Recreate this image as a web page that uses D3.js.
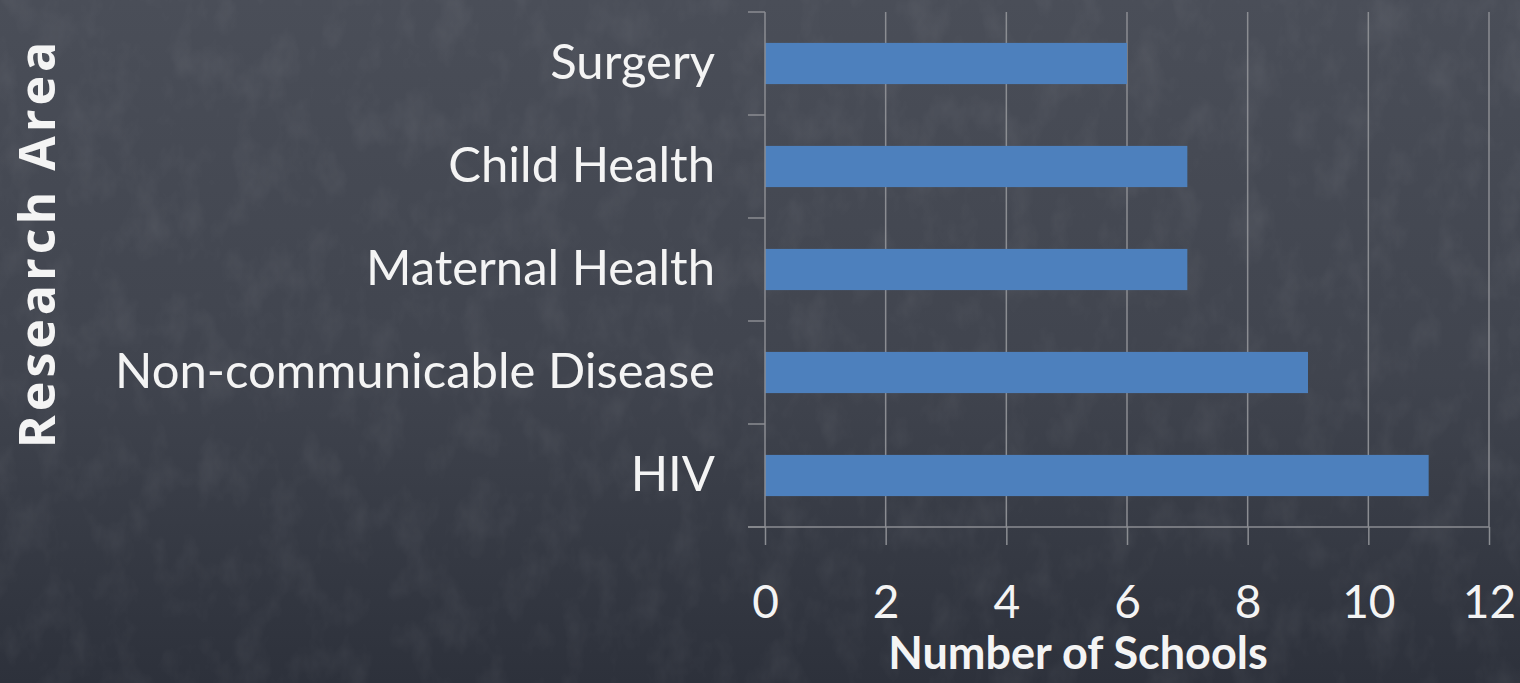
<!DOCTYPE html>
<html>
<head>
<meta charset="utf-8">
<script src="https://cdn.jsdelivr.net/npm/d3@7"></script>
<style>
  html, body { margin: 0; padding: 0; background: #3b3f49; }
  svg { display: block; }
</style>
</head>
<body>
<svg id="chart"></svg>
<script>
// data, listed top to bottom as drawn
const areas = ["Surgery", "Child Health", "Maternal Health", "Non-communicable Disease", "HIV"];
const schools = [6, 7, 7, 9, 11];
const xTicks = [0, 2, 4, 6, 8, 10, 12];

function makeBars() {
    let w = 1520;
    let h = 683;

    let svg = d3.select("#chart")
        .attr("width", w)
        .attr("height", h);

    // chalkboard-ish background
    let defs = svg.append("defs");
    let grad = defs.append("linearGradient")
        .attr("id", "board")
        .attr("x1", 0).attr("y1", 0)
        .attr("x2", 0).attr("y2", 1);
    grad.append("stop").attr("offset", "0%").attr("stop-color", "#4a4e58");
    grad.append("stop").attr("offset", "55%").attr("stop-color", "#40444e");
    grad.append("stop").attr("offset", "100%").attr("stop-color", "#2d313b");

    let chalk = defs.append("filter").attr("id", "chalk");
    chalk.append("feTurbulence")
        .attr("type", "fractalNoise")
        .attr("baseFrequency", "0.03 0.02")
        .attr("numOctaves", 4)
        .attr("seed", 7);
    chalk.append("feColorMatrix")
        .attr("values", "0 0 0 0 1  0 0 0 0 1  0 0 0 0 1  0 0 0 0.9 -0.4");

    svg.append("rect")
        .attr("width", w)
        .attr("height", h)
        .attr("fill", "url(#board)");
    svg.append("rect")
        .attr("width", w)
        .attr("height", h)
        .attr("filter", "url(#chalk)")
        .style("opacity", 0.12);

    let left = 765, right = 1489, top = 12, bottom = 527;

    let x = d3.scaleLinear()
        .domain([0, 12])
        .range([left, right]);

    let y = d3.scaleBand()
        .domain(areas)
        .range([top, bottom])
        .paddingInner(0.6)
        .paddingOuter(0.3);

    let grid = "#8b8d92";
    let ink = "#f4f4f4";

    // vertical gridlines
    svg.append("g")
        .selectAll("line")
        .data(xTicks.slice(1))
        .enter()
        .append("line")
            .attr("x1", d => x(d))
            .attr("x2", d => x(d))
            .attr("y1", top)
            .attr("y2", bottom)
            .style("stroke", grid)
            .style("stroke-width", 1.5);

    // bars
    svg.append("g")
        .selectAll("rect")
        .data(areas)
        .enter()
        .append("rect")
            .attr("x", x(0))
            .attr("y", d => y(d))
            .attr("width", (d, i) => x(schools[i]) - x(0))
            .attr("height", y.bandwidth())
            .style("fill", "#4d80bd");

    // x axis
    let xAxis = svg.append("g")
        .attr("transform", `translate(0,${bottom})`)
        .call(d3.axisBottom(x)
            .tickValues(xTicks)
            .tickSize(18)
            .tickPadding(40));
    xAxis.select(".domain")
        .attr("d", `M${left - 17},0H${right}`)
        .style("stroke", grid)
        .style("stroke-width", 1.5);
    xAxis.selectAll(".tick line")
        .style("stroke", grid)
        .style("stroke-width", 1.5);
    xAxis.selectAll(".tick text")
        .style("font-family", "Lato, 'Open Sans', sans-serif")
        .style("font-size", "46px")
        .style("fill", ink);

    // y axis, category labels
    let yAxis = svg.append("g")
        .attr("transform", `translate(${left},0)`)
        .call(d3.axisLeft(y).tickSize(0).tickPadding(50));
    yAxis.select(".domain")
        .attr("d", `M0,${top}V${bottom}`)
        .style("stroke", grid)
        .style("stroke-width", 1.5);
    yAxis.selectAll(".tick text")
        .style("font-family", "Lato, 'Open Sans', sans-serif")
        .style("font-size", "49px")
        .style("fill", ink);

    // ticks sit on the band boundaries
    let edges = d3.range(areas.length + 1).map(i => top + i * (bottom - top) / areas.length);
    yAxis.append("g")
        .selectAll("line")
        .data(edges)
        .enter()
        .append("line")
            .attr("x1", -17)
            .attr("x2", 0)
            .attr("y1", d => d)
            .attr("y2", d => d)
            .style("stroke", grid)
            .style("stroke-width", 1.5);

    // axis titles
    svg.append("text")
        .attr("x", 1078)
        .attr("y", 669)
        .attr("text-anchor", "middle")
        .style("font-family", "Lato, 'Open Sans', sans-serif")
        .style("font-weight", "bold")
        .style("font-size", "45px")
        .style("fill", ink)
        .text("Number of Schools");

    svg.append("text")
        .attr("transform", "translate(55,243) rotate(-90)")
        .attr("text-anchor", "middle")
        .style("font-family", "'Open Sans', sans-serif")
        .style("font-weight", "bold")
        .style("font-size", "50px")
        .style("letter-spacing", "4px")
        .style("fill", ink)
        .text("Research Area");
}

window.onload = function() {
    makeBars();
}
</script>
</body>
</html>
